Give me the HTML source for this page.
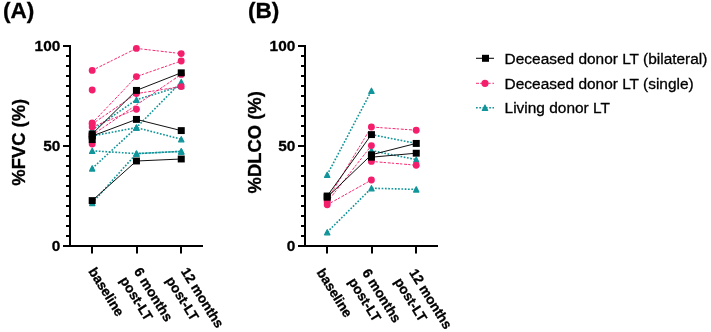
<!DOCTYPE html>
<html><head><meta charset="utf-8"><style>
html,body{margin:0;padding:0;background:#fff;width:711px;height:332px;overflow:hidden}
svg{display:block;will-change:transform}
text{font-family:"Liberation Sans", sans-serif;fill:#000;stroke:#000;stroke-width:0.3px}
</style></head><body>
<svg width="711" height="332" viewBox="0 0 711 332">
<rect width="711" height="332" fill="#fff"/>
<path d="M70,45 V247 M69,246 H203" stroke="#000" stroke-width="2" fill="none"/>
<path d="M63,46 H70 M66,56 H70 M66,66 H70 M66,76 H70 M66,86 H70 M66,96 H70 M66,106 H70 M66,116 H70 M66,126 H70 M66,136 H70 M63,146 H70 M66,156 H70 M66,166 H70 M66,176 H70 M66,186 H70 M66,196 H70 M66,206 H70 M66,216 H70 M66,226 H70 M66,236 H70 M63,246 H70 M92,246 V253.5 M137,246 V253.5 M181,246 V253.5" stroke="#000" stroke-width="2" fill="none"/>
<text transform="translate(60.3 50.6)" text-anchor="end" font-size="15.4" font-weight="bold">100</text>
<text transform="translate(60.3 150.6)" text-anchor="end" font-size="15.4" font-weight="bold">50</text>
<text transform="translate(60.3 250.6)" text-anchor="end" font-size="15.4" font-weight="bold">0</text>
<text transform="translate(24.9 142.3) rotate(-90)" text-anchor="middle" font-size="18.4" font-weight="bold">%FVC (%)</text>
<text x="3" y="17.7" font-size="22.6" font-weight="bold">(A)</text>
<text transform="translate(88.0 271.2) rotate(58)" font-size="13.6" font-weight="bold">baseline</text>
<text transform="translate(133.5 271.3) rotate(58)" font-size="13.6" font-weight="bold">6 months</text>
<text transform="translate(119.6 280.3) rotate(58)" font-size="13.6" font-weight="bold">post-LT</text>
<text transform="translate(180.4 271.3) rotate(58)" font-size="13.6" font-weight="bold">12 months</text>
<text transform="translate(165.6 280.3) rotate(58)" font-size="13.6" font-weight="bold">post-LT</text>
<path d="M92.2,150.8 L136.4,153.6 L181.2,151.4" fill="none" stroke="#11959a" stroke-width="1.6" stroke-dasharray="1.7 1.6"/>
<path d="M92.2,168.4 L136.4,127.6 L181.2,82.0" fill="none" stroke="#11959a" stroke-width="1.6" stroke-dasharray="1.7 1.6"/>
<path d="M92.2,203.0 L136.4,153.6 L181.2,151.4" fill="none" stroke="#11959a" stroke-width="1.6" stroke-dasharray="1.7 1.6"/>
<path d="M92.2,130.0 L136.4,99.8 L181.2,86.0" fill="none" stroke="#11959a" stroke-width="1.6" stroke-dasharray="1.7 1.6"/>
<path d="M92.2,136.0 L136.4,127.6 L181.2,139.2" fill="none" stroke="#11959a" stroke-width="1.6" stroke-dasharray="1.7 1.6"/>
<path d="M92.2,70.4 L136.4,48.4 L181.2,53.6" fill="none" stroke="#f41f6c" stroke-width="0.95" stroke-dasharray="3 1.1 2.3 1.8"/>
<path d="M92.2,123.0 L136.4,76.6 L181.2,61.0" fill="none" stroke="#f41f6c" stroke-width="0.95" stroke-dasharray="3 1.1 2.3 1.8"/>
<path d="M92.2,124.0 L136.4,93.6 L181.2,86.6" fill="none" stroke="#f41f6c" stroke-width="0.95" stroke-dasharray="3 1.1 2.3 1.8"/>
<path d="M92.2,127.0 L136.4,109.2" fill="none" stroke="#f41f6c" stroke-width="0.95" stroke-dasharray="3 1.1 2.3 1.8"/>
<path d="M92.2,135.0 L181.2,74.4" fill="none" stroke="#f41f6c" stroke-width="0.95" stroke-dasharray="3 1.1 2.3 1.8"/>
<path d="M92.2,134.0 L136.4,90.4 L181.2,72.8" fill="none" stroke="#111" stroke-width="1"/>
<path d="M92.2,136.0 L136.4,119.4 L181.2,130.6" fill="none" stroke="#111" stroke-width="1"/>
<path d="M92.2,200.6 L136.4,161.0 L181.2,159.0" fill="none" stroke="#111" stroke-width="1"/>
<path d="M92.20,148.30 L94.80,153.40 L89.60,153.40 Z" fill="#11959a" stroke="#11959a" stroke-width="1.3" stroke-linejoin="round"/>
<path d="M136.45,151.10 L139.05,156.20 L133.85,156.20 Z" fill="#11959a" stroke="#11959a" stroke-width="1.3" stroke-linejoin="round"/>
<path d="M181.25,148.90 L183.85,154.00 L178.65,154.00 Z" fill="#11959a" stroke="#11959a" stroke-width="1.3" stroke-linejoin="round"/>
<path d="M92.20,165.90 L94.80,171.00 L89.60,171.00 Z" fill="#11959a" stroke="#11959a" stroke-width="1.3" stroke-linejoin="round"/>
<path d="M136.45,125.10 L139.05,130.20 L133.85,130.20 Z" fill="#11959a" stroke="#11959a" stroke-width="1.3" stroke-linejoin="round"/>
<path d="M181.25,79.50 L183.85,84.60 L178.65,84.60 Z" fill="#11959a" stroke="#11959a" stroke-width="1.3" stroke-linejoin="round"/>
<path d="M92.20,200.50 L94.80,205.60 L89.60,205.60 Z" fill="#11959a" stroke="#11959a" stroke-width="1.3" stroke-linejoin="round"/>
<path d="M136.45,151.10 L139.05,156.20 L133.85,156.20 Z" fill="#11959a" stroke="#11959a" stroke-width="1.3" stroke-linejoin="round"/>
<path d="M181.25,148.90 L183.85,154.00 L178.65,154.00 Z" fill="#11959a" stroke="#11959a" stroke-width="1.3" stroke-linejoin="round"/>
<path d="M92.20,127.50 L94.80,132.60 L89.60,132.60 Z" fill="#11959a" stroke="#11959a" stroke-width="1.3" stroke-linejoin="round"/>
<path d="M136.45,97.30 L139.05,102.40 L133.85,102.40 Z" fill="#11959a" stroke="#11959a" stroke-width="1.3" stroke-linejoin="round"/>
<path d="M181.25,83.50 L183.85,88.60 L178.65,88.60 Z" fill="#11959a" stroke="#11959a" stroke-width="1.3" stroke-linejoin="round"/>
<path d="M92.20,133.50 L94.80,138.60 L89.60,138.60 Z" fill="#11959a" stroke="#11959a" stroke-width="1.3" stroke-linejoin="round"/>
<path d="M136.45,125.10 L139.05,130.20 L133.85,130.20 Z" fill="#11959a" stroke="#11959a" stroke-width="1.3" stroke-linejoin="round"/>
<path d="M181.25,136.70 L183.85,141.80 L178.65,141.80 Z" fill="#11959a" stroke="#11959a" stroke-width="1.3" stroke-linejoin="round"/>
<circle cx="92.2" cy="70.4" r="3.45" fill="#f41f6c"/>
<circle cx="136.4" cy="48.4" r="3.45" fill="#f41f6c"/>
<circle cx="181.2" cy="53.6" r="3.45" fill="#f41f6c"/>
<circle cx="92.2" cy="90.0" r="3.45" fill="#f41f6c"/>
<circle cx="92.2" cy="123.0" r="3.45" fill="#f41f6c"/>
<circle cx="136.4" cy="76.6" r="3.45" fill="#f41f6c"/>
<circle cx="181.2" cy="61.0" r="3.45" fill="#f41f6c"/>
<circle cx="92.2" cy="124.0" r="3.45" fill="#f41f6c"/>
<circle cx="136.4" cy="93.6" r="3.45" fill="#f41f6c"/>
<circle cx="181.2" cy="86.6" r="3.45" fill="#f41f6c"/>
<circle cx="92.2" cy="127.0" r="3.45" fill="#f41f6c"/>
<circle cx="136.4" cy="109.2" r="3.45" fill="#f41f6c"/>
<circle cx="92.2" cy="135.0" r="3.45" fill="#f41f6c"/>
<circle cx="181.2" cy="74.4" r="3.45" fill="#f41f6c"/>
<circle cx="92.2" cy="144.0" r="3.45" fill="#f41f6c"/>
<rect x="88.70" y="130.55" width="7" height="6.9" fill="#000000"/>
<rect x="132.95" y="86.95" width="7" height="6.9" fill="#000000"/>
<rect x="177.75" y="69.35" width="7" height="6.9" fill="#000000"/>
<rect x="88.70" y="132.55" width="7" height="6.9" fill="#000000"/>
<rect x="132.95" y="115.95" width="7" height="6.9" fill="#000000"/>
<rect x="177.75" y="127.15" width="7" height="6.9" fill="#000000"/>
<rect x="88.70" y="197.15" width="7" height="6.9" fill="#000000"/>
<rect x="132.95" y="157.55" width="7" height="6.9" fill="#000000"/>
<rect x="177.75" y="155.55" width="7" height="6.9" fill="#000000"/>
<rect x="88.70" y="136.15" width="7" height="6.9" fill="#000000"/>
<path d="M305,45 V247 M304,246 H438" stroke="#000" stroke-width="2" fill="none"/>
<path d="M298,46 H305 M301,56 H305 M301,66 H305 M301,76 H305 M301,86 H305 M301,96 H305 M301,106 H305 M301,116 H305 M301,126 H305 M301,136 H305 M298,146 H305 M301,156 H305 M301,166 H305 M301,176 H305 M301,186 H305 M301,196 H305 M301,206 H305 M301,216 H305 M301,226 H305 M301,236 H305 M298,246 H305 M327,246 V253.5 M372,246 V253.5 M416,246 V253.5" stroke="#000" stroke-width="2" fill="none"/>
<text transform="translate(295.3 50.6)" text-anchor="end" font-size="15.4" font-weight="bold">100</text>
<text transform="translate(295.3 150.6)" text-anchor="end" font-size="15.4" font-weight="bold">50</text>
<text transform="translate(295.3 250.6)" text-anchor="end" font-size="15.4" font-weight="bold">0</text>
<text transform="translate(260.6 142.3) rotate(-90)" text-anchor="middle" font-size="18.4" font-weight="bold">%DLCO (%)</text>
<text x="248" y="17.7" font-size="22.6" font-weight="bold">(B)</text>
<text transform="translate(316.3 272.3) rotate(58)" font-size="13.6" font-weight="bold">baseline</text>
<text transform="translate(361.8 272.4) rotate(58)" font-size="13.6" font-weight="bold">6 months</text>
<text transform="translate(347.9 281.4) rotate(58)" font-size="13.6" font-weight="bold">post-LT</text>
<text transform="translate(408.7 272.4) rotate(58)" font-size="13.6" font-weight="bold">12 months</text>
<text transform="translate(393.9 281.4) rotate(58)" font-size="13.6" font-weight="bold">post-LT</text>
<path d="M327.2,174.8 L371.4,90.8" fill="none" stroke="#11959a" stroke-width="1.6" stroke-dasharray="1.7 1.6"/>
<path d="M327.2,232.2 L371.4,188.2 L416.2,189.4" fill="none" stroke="#11959a" stroke-width="1.6" stroke-dasharray="1.7 1.6"/>
<path d="M371.4,134.6 L416.2,143.4" fill="none" stroke="#11959a" stroke-width="1.6" stroke-dasharray="1.7 1.6"/>
<path d="M371.4,150.6 L416.2,159.6" fill="none" stroke="#11959a" stroke-width="1.6" stroke-dasharray="1.7 1.6"/>
<path d="M327.2,200.0 L371.4,127.0 L416.2,130.2" fill="none" stroke="#f41f6c" stroke-width="0.95" stroke-dasharray="3 1.1 2.3 1.8"/>
<path d="M327.2,202.0 L371.4,145.6" fill="none" stroke="#f41f6c" stroke-width="0.95" stroke-dasharray="3 1.1 2.3 1.8"/>
<path d="M371.4,161.4 L416.2,165.2" fill="none" stroke="#f41f6c" stroke-width="0.95" stroke-dasharray="3 1.1 2.3 1.8"/>
<path d="M327.2,204.8 L371.4,180.0" fill="none" stroke="#f41f6c" stroke-width="0.95" stroke-dasharray="3 1.1 2.3 1.8"/>
<path d="M327.2,196.0 L371.4,134.6" fill="none" stroke="#111" stroke-width="1"/>
<path d="M327.2,197.2 L371.4,154.8 L416.2,143.4" fill="none" stroke="#111" stroke-width="1"/>
<path d="M371.4,157.2 L416.2,153.2" fill="none" stroke="#111" stroke-width="1"/>
<path d="M327.20,172.30 L329.80,177.40 L324.60,177.40 Z" fill="#11959a" stroke="#11959a" stroke-width="1.3" stroke-linejoin="round"/>
<path d="M371.45,88.30 L374.05,93.40 L368.85,93.40 Z" fill="#11959a" stroke="#11959a" stroke-width="1.3" stroke-linejoin="round"/>
<path d="M327.20,229.70 L329.80,234.80 L324.60,234.80 Z" fill="#11959a" stroke="#11959a" stroke-width="1.3" stroke-linejoin="round"/>
<path d="M371.45,185.70 L374.05,190.80 L368.85,190.80 Z" fill="#11959a" stroke="#11959a" stroke-width="1.3" stroke-linejoin="round"/>
<path d="M416.25,186.90 L418.85,192.00 L413.65,192.00 Z" fill="#11959a" stroke="#11959a" stroke-width="1.3" stroke-linejoin="round"/>
<path d="M371.45,132.10 L374.05,137.20 L368.85,137.20 Z" fill="#11959a" stroke="#11959a" stroke-width="1.3" stroke-linejoin="round"/>
<path d="M416.25,140.90 L418.85,146.00 L413.65,146.00 Z" fill="#11959a" stroke="#11959a" stroke-width="1.3" stroke-linejoin="round"/>
<path d="M371.45,148.10 L374.05,153.20 L368.85,153.20 Z" fill="#11959a" stroke="#11959a" stroke-width="1.3" stroke-linejoin="round"/>
<path d="M416.25,157.10 L418.85,162.20 L413.65,162.20 Z" fill="#11959a" stroke="#11959a" stroke-width="1.3" stroke-linejoin="round"/>
<circle cx="327.2" cy="200.0" r="3.45" fill="#f41f6c"/>
<circle cx="371.4" cy="127.0" r="3.45" fill="#f41f6c"/>
<circle cx="416.2" cy="130.2" r="3.45" fill="#f41f6c"/>
<circle cx="327.2" cy="202.0" r="3.45" fill="#f41f6c"/>
<circle cx="371.4" cy="145.6" r="3.45" fill="#f41f6c"/>
<circle cx="371.4" cy="161.4" r="3.45" fill="#f41f6c"/>
<circle cx="416.2" cy="165.2" r="3.45" fill="#f41f6c"/>
<circle cx="327.2" cy="204.8" r="3.45" fill="#f41f6c"/>
<circle cx="371.4" cy="180.0" r="3.45" fill="#f41f6c"/>
<rect x="323.70" y="192.55" width="7" height="6.9" fill="#000000"/>
<rect x="367.95" y="131.15" width="7" height="6.9" fill="#000000"/>
<rect x="323.70" y="193.75" width="7" height="6.9" fill="#000000"/>
<rect x="367.95" y="151.35" width="7" height="6.9" fill="#000000"/>
<rect x="412.75" y="139.95" width="7" height="6.9" fill="#000000"/>
<rect x="367.95" y="153.75" width="7" height="6.9" fill="#000000"/>
<rect x="412.75" y="149.75" width="7" height="6.9" fill="#000000"/>
<path d="M476,58.3 H494" stroke="#111" stroke-width="1.1"/>
<rect x="482" y="54.8" width="7" height="7" fill="#000"/>
<text transform="translate(504.6 63.8)" font-size="15.45">Deceased donor LT (bilateral)</text>
<path d="M476,83.3 H494" fill="none" stroke="#f41f6c" stroke-width="0.95" stroke-dasharray="3 1.1 2.3 1.8"/>
<circle cx="485" cy="83.3" r="3.6" fill="#f41f6c"/>
<text transform="translate(504.6 88.8)" font-size="15.45">Deceased donor LT (single)</text>
<path d="M476,107.8 H494" fill="none" stroke="#11959a" stroke-width="1.6" stroke-dasharray="1.7 1.6"/>
<path d="M485,104.90 L487.75,110.55 L482.25,110.55 Z" fill="#11959a" stroke="#11959a" stroke-width="1.1" stroke-linejoin="round"/>
<text transform="translate(504.6 113.3)" font-size="15.45">Living donor LT</text>
</svg>
</body></html>
